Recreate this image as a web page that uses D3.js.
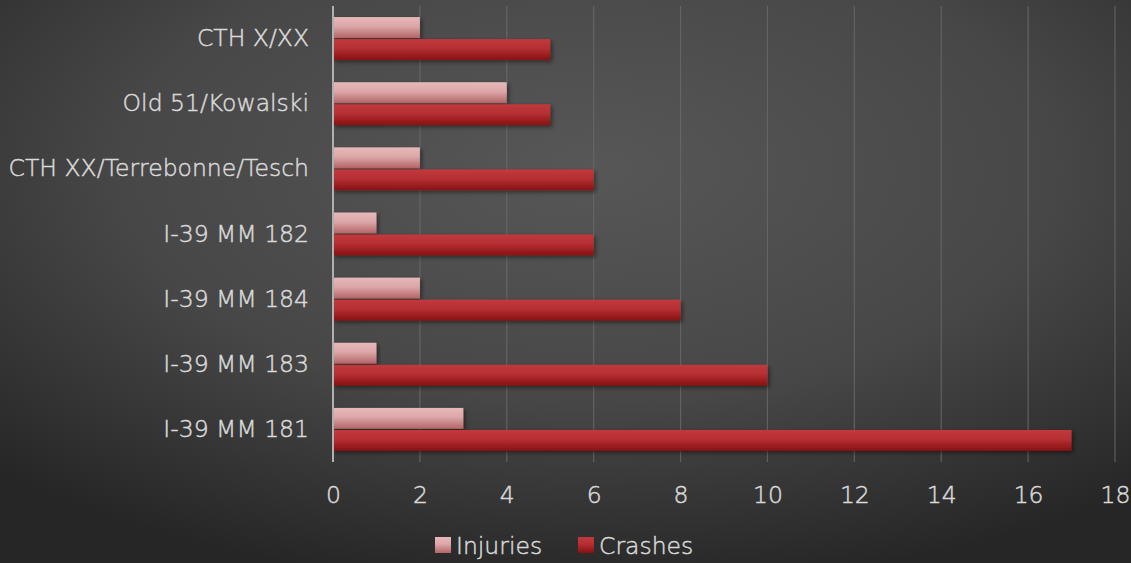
<!DOCTYPE html>
<html>
<head>
<meta charset="utf-8">
<script src="https://cdn.jsdelivr.net/npm/d3@7"></script>
<style>
  html, body { margin: 0; padding: 0; background: #333; }
  svg { display: block; }
  text { font-family: "DejaVu Sans", "Noto Sans", sans-serif; font-weight: 200; }
</style>
</head>
<body>
<script>
// Crash and injury counts by location
const categories = ["CTH X/XX", "Old 51/Kowalski", "CTH XX/Terrebonne/Tesch", "I-39 MM 182", "I-39 MM 184", "I-39 MM 183", "I-39 MM 181"];
const injuries = [2, 4, 2, 1, 2, 1, 3];
const crashes = [5, 5, 6, 6, 8, 10, 17];
const seriesNames = ["Injuries", "Crashes"];
const xTicks = [0, 2, 4, 6, 8, 10, 12, 14, 16, 18];

const W = 1131, H = 563;
const margin = { left: 333, right: 16, top: 6, bottom: 101 };
const FONT = "23.5px";
const TEXT_COLOR = "#dadada";

const svg = d3.select("body").append("svg").attr("width", W).attr("height", H);
const defs = svg.append("defs");

const bg = defs.append("radialGradient").attr("id", "bg")
  .attr("cx", "52%").attr("cy", "30%").attr("r", "75%");
bg.append("stop").attr("offset", "0%").attr("stop-color", "#575757");
bg.append("stop").attr("offset", "55%").attr("stop-color", "#474747");
bg.append("stop").attr("offset", "100%").attr("stop-color", "#262626");

const gInj = defs.append("linearGradient").attr("id", "gInj").attr("x1", 0).attr("y1", 0).attr("x2", 0).attr("y2", 1);
gInj.append("stop").attr("offset", "0%").attr("stop-color", "#e7b9ba");
gInj.append("stop").attr("offset", "45%").attr("stop-color", "#dca6a7");
gInj.append("stop").attr("offset", "100%").attr("stop-color", "#b36466");

const gCr = defs.append("linearGradient").attr("id", "gCr").attr("x1", 0).attr("y1", 0).attr("x2", 0).attr("y2", 1);
gCr.append("stop").attr("offset", "0%").attr("stop-color", "#c2393c");
gCr.append("stop").attr("offset", "45%").attr("stop-color", "#b52f32");
gCr.append("stop").attr("offset", "100%").attr("stop-color", "#861112");

const shadow = defs.append("filter").attr("id", "shadow").attr("x", "-5%").attr("y", "-30%").attr("width", "115%").attr("height", "170%");
shadow.append("feDropShadow").attr("dx", 2).attr("dy", 2).attr("stdDeviation", 2)
  .attr("flood-color", "#000").attr("flood-opacity", 0.45);

svg.append("rect").attr("width", W).attr("height", H).attr("fill", "url(#bg)");

const x = d3.scaleLinear().domain([0, 18]).range([margin.left, W - margin.right]);
const y = d3.scaleBand().domain(categories).range([margin.top, H - margin.bottom]).paddingInner(0.34).paddingOuter(0.17);
const ySub = d3.scaleBand().domain(seriesNames).range([0, y.bandwidth()]).paddingInner(0.05);

// gridlines
svg.append("g").selectAll("line").data(xTicks.filter(d => d > 0)).join("line")
  .attr("x1", d => x(d)).attr("x2", d => x(d))
  .attr("y1", margin.top).attr("y2", H - margin.bottom)
  .attr("stroke", "#6a6a6a").attr("stroke-width", 1.2).attr("opacity", 0.8);

// bars
const colors = { Injuries: "url(#gInj)", Crashes: "url(#gCr)" };
const values = { Injuries: injuries, Crashes: crashes };
const bars = svg.append("g");
seriesNames.forEach(s => {
  bars.selectAll(".b-" + s).data(categories).join("rect")
    .attr("class", "b-" + s)
    .attr("x", x(0))
    .attr("y", (c) => y(c) + ySub(s))
    .attr("width", (c, i) => x(values[s][i]) - x(0))
    .attr("height", ySub.bandwidth())
    .attr("fill", colors[s])
    .attr("filter", "url(#shadow)");
});

// vertical axis line
svg.append("line").attr("x1", x(0)).attr("x2", x(0))
  .attr("y1", margin.top).attr("y2", H - margin.bottom)
  .attr("stroke", "#b0b0b0").attr("stroke-width", 2);

function styleText(sel) {
  sel.attr("fill", TEXT_COLOR).attr("stroke", TEXT_COLOR).attr("stroke-width", 0.45)
    .style("font-size", FONT)
    .style("font-family", "'DejaVu Sans', 'Noto Sans', sans-serif").style("font-weight", 200);
}

// category labels
const yAxis = d3.axisLeft(y).tickSize(0).tickPadding(24);
const ya = svg.append("g").attr("transform", `translate(${x(0)},0)`).call(yAxis);
ya.select(".domain").remove();
styleText(ya.selectAll("text"));

// value axis labels
const xAxis = d3.axisBottom(x).tickValues(xTicks).tickSize(0).tickPadding(24);
const xa = svg.append("g").attr("transform", `translate(0,${H - margin.bottom})`).call(xAxis);
xa.select(".domain").remove();
styleText(xa.selectAll("text"));

// legend
const legend = svg.append("g");
const legendItems = [
  { name: "Injuries", fill: "url(#gInj)", x: 435 },
  { name: "Crashes", fill: "url(#gCr)", x: 578 }
];
legendItems.forEach(it => {
  legend.append("rect").attr("x", it.x).attr("y", 537).attr("width", 16).attr("height", 16).attr("fill", it.fill);
  styleText(legend.append("text").attr("x", it.x + 21).attr("y", 554).text(it.name));
});
</script>
</body>
</html>
